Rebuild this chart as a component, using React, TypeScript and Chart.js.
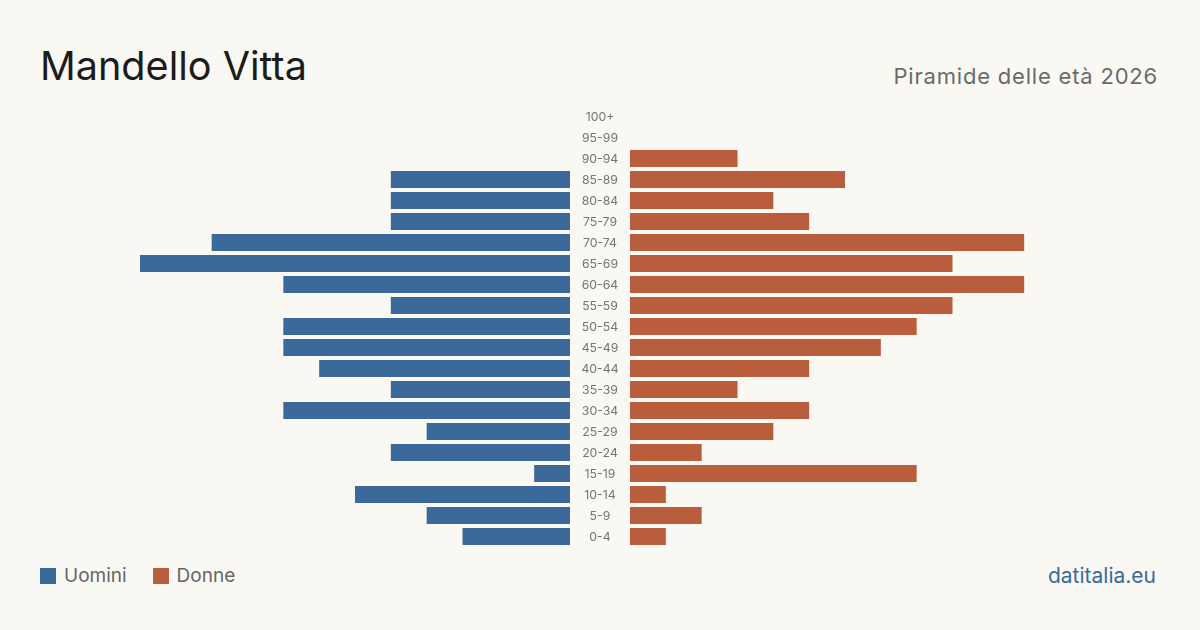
import React, { useEffect, useRef } from "react";
import { Chart, registerables } from "chart.js";

Chart.register(...registerables);

// Age classes, top (oldest) to bottom (youngest)
const ageGroups = [
  "100+", "95-99", "90-94", "85-89", "80-84", "75-79", "70-74", "65-69",
  "60-64", "55-59", "50-54", "45-49", "40-44", "35-39", "30-34", "25-29",
  "20-24", "15-19", "10-14", "5-9", "0-4",
];

// Residents per age class
const maleValues = [0, 0, 0, 5, 5, 5, 10, 12, 8, 5, 8, 8, 7, 5, 8, 4, 5, 1, 6, 4, 3];
const femaleValues = [0, 0, 3, 6, 4, 5, 11, 9, 11, 9, 8, 7, 5, 3, 5, 4, 2, 8, 1, 2, 1];

const axisMax = 12;
const labelColumn = 60;

const BLUE = "#3b6a9a";
const ORANGE = "#b95d3d";
const BG = "#f9f8f3";
const FONT = "Inter, 'Open Sans', sans-serif";

// Draws the age-class labels centred in the gap left of the female bars,
// at the positions given by the category scale.
const ageLabelsPlugin = {
  id: "ageLabels",
  afterDraw(chart: any) {
    const { ctx, chartArea, scales } = chart;
    const y = scales.y;
    ctx.save();
    ctx.font = `12.3px ${FONT}`;
    ctx.fillStyle = "#757575";
    ctx.textAlign = "center";
    ctx.textBaseline = "middle";
    const cx = chartArea.left - labelColumn / 2;
    ageGroups.forEach((label, i) => {
      ctx.fillText(label, cx, y.getPixelForValue(i) + 1);
    });
    ctx.restore();
  },
};

function LeftPyramid() {
  const ref = useRef<HTMLCanvasElement>(null);
  useEffect(() => {
    const chart = new Chart(ref.current!, {
      type: "bar",
      data: {
        labels: ageGroups,
        datasets: [
          {
            label: "Uomini",
            data: maleValues,
            backgroundColor: BLUE,
            barPercentage: 0.81,
            categoryPercentage: 1,
          },
        ],
      },
      options: {
        indexAxis: "y",
        animation: false,
        responsive: false,
        maintainAspectRatio: false,
        layout: { padding: 0 },
        plugins: { legend: { display: false }, tooltip: { enabled: false } },
        scales: {
          x: { display: false, reverse: true, min: 0, max: axisMax },
          y: { display: false },
        },
      },
    });
    return () => chart.destroy();
  }, []);
  return <canvas ref={ref} width={430} height={441} />;
}

function RightPyramid() {
  const ref = useRef<HTMLCanvasElement>(null);
  useEffect(() => {
    const chart = new Chart(ref.current!, {
      type: "bar",
      data: {
        labels: ageGroups,
        datasets: [
          {
            label: "Donne",
            data: femaleValues,
            backgroundColor: ORANGE,
            barPercentage: 0.81,
            categoryPercentage: 1,
          },
        ],
      },
      options: {
        indexAxis: "y",
        animation: false,
        responsive: false,
        maintainAspectRatio: false,
        layout: { padding: { left: labelColumn, right: 0, top: 0, bottom: 0 } },
        plugins: { legend: { display: false }, tooltip: { enabled: false } },
        scales: {
          x: { display: false, min: 0, max: axisMax },
          y: { display: false },
        },
      },
      plugins: [ageLabelsPlugin],
    });
    return () => chart.destroy();
  }, []);
  return <canvas ref={ref} width={430 + labelColumn} height={441} />;
}

export default function App() {
  return (
    <div
      style={{
        position: "fixed",
        left: 0,
        top: 0,
        width: 1200,
        height: 630,
        background: BG,
        fontFamily: FONT,
        overflow: "hidden",
      }}
    >
      <div
        style={{
          position: "absolute",
          left: 40,
          top: 40,
          fontSize: 39.6,
          lineHeight: "52px",
          color: "#1c1c1c",
        }}
      >
        Mandello Vitta
      </div>
      <div
        style={{
          position: "absolute",
          right: 42,
          top: 61,
          fontSize: 22,
          letterSpacing: 0.8,
          lineHeight: "30px",
          color: "#6b6b6b",
        }}
      >
        Piramide delle età 2026
      </div>

      <div style={{ position: "absolute", left: 140, top: 105.5 }}>
        <LeftPyramid />
      </div>
      <div style={{ position: "absolute", left: 570, top: 105.5 }}>
        <RightPyramid />
      </div>

      <div
        style={{
          position: "absolute",
          left: 40,
          top: 563,
          display: "flex",
          alignItems: "center",
          fontSize: 19,
          lineHeight: "26px",
          color: "#666666",
        }}
      >
        <span style={{ width: 16, height: 16, background: BLUE, display: "inline-block", marginRight: 8 }} />
        <span style={{ marginRight: 26 }}>Uomini</span>
        <span style={{ width: 16, height: 16, background: ORANGE, display: "inline-block", marginRight: 8 }} />
        <span>Donne</span>
      </div>

      <div
        style={{
          position: "absolute",
          right: 44,
          top: 563,
          fontSize: 21,
          lineHeight: "26px",
          color: BLUE,
        }}
      >
        datitalia.eu
      </div>
    </div>
  );
}
